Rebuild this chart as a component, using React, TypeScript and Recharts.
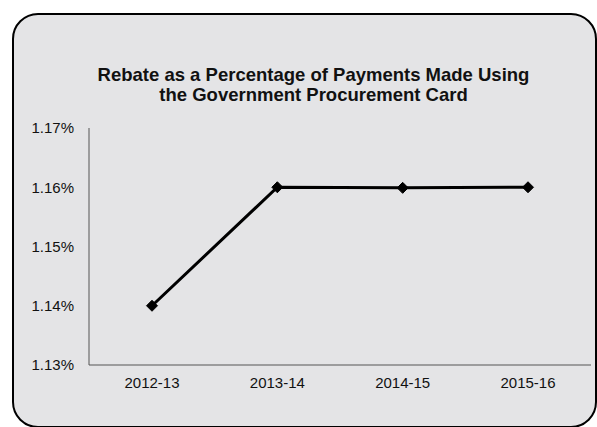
import React from "react";
import { LineChart, Line, XAxis, YAxis } from "recharts";

const categories = ["2012-13", "2013-14", "2014-15", "2015-16"];
const rebatePct = [1.14, 1.16, 1.1599, 1.16];
const yTicks = [1.13, 1.14, 1.15, 1.16, 1.17];
const titleLines = [
  "Rebate as a Percentage of Payments Made Using",
  "the Government Procurement Card",
];

const data = categories.map((c, i) => ({ year: c, value: rebatePct[i] }));

const Diamond = (props: any) => {
  const { cx, cy } = props;
  if (cx == null || cy == null) return null;
  const r = 5.5;
  return (
    <path
      d={`M${cx},${cy - r} L${cx + r},${cy} L${cx},${cy + r} L${cx - r},${cy} Z`}
      fill="#000"
      stroke="#000"
    />
  );
};

export default function App() {
  const font = "'Liberation Sans', Arial, sans-serif";
  return (
    <div
      style={{
        position: "absolute",
        left: 0,
        top: 0,
        width: 597,
        height: 427,
        overflow: "hidden",
        background: "#fff",
        fontFamily: font,
      }}
    >
      <div
        style={{
          position: "absolute",
          left: 12,
          top: 13,
          width: 585,
          height: 415,
          boxSizing: "border-box",
          border: "2px solid #000",
          borderRadius: 26,
          background: "#e4e4e6",
        }}
      />
      <div
        style={{
          position: "absolute",
          left: 0,
          top: 65,
          width: 627,
          textAlign: "center",
          fontWeight: "bold",
          fontSize: 18.5,
          lineHeight: "20px",
          color: "#111",
        }}
      >
        {titleLines.map((t) => (
          <div key={t}>{t}</div>
        ))}
      </div>
      <div style={{ position: "absolute", left: 0, top: 0 }}>
        <LineChart
          width={597}
          height={427}
          data={data}
          margin={{ top: 128, right: 6, bottom: 32, left: 0 }}
        >
          <XAxis
            dataKey="year"
            stroke="#555"
            tickLine={false}
            tickSize={0}
            tickMargin={12}
            height={30}
            padding={{ left: 63, right: 63 }}
            tick={{ fill: "#111", fontSize: 15, fontFamily: font }}
          />
          <YAxis
            domain={[1.13, 1.17]}
            ticks={yTicks}
            width={89}
            stroke="#555"
            tickLine={false}
            tickSize={0}
            tickMargin={15}
            tickFormatter={(v: number) => `${v.toFixed(2)}%`}
            tick={{ fill: "#111", fontSize: 15, fontFamily: font }}
          />
          <Line
            dataKey="value"
            stroke="#000"
            strokeWidth={3}
            dot={<Diamond />}
            activeDot={false}
            isAnimationActive={false}
          />
        </LineChart>
      </div>
    </div>
  );
}
